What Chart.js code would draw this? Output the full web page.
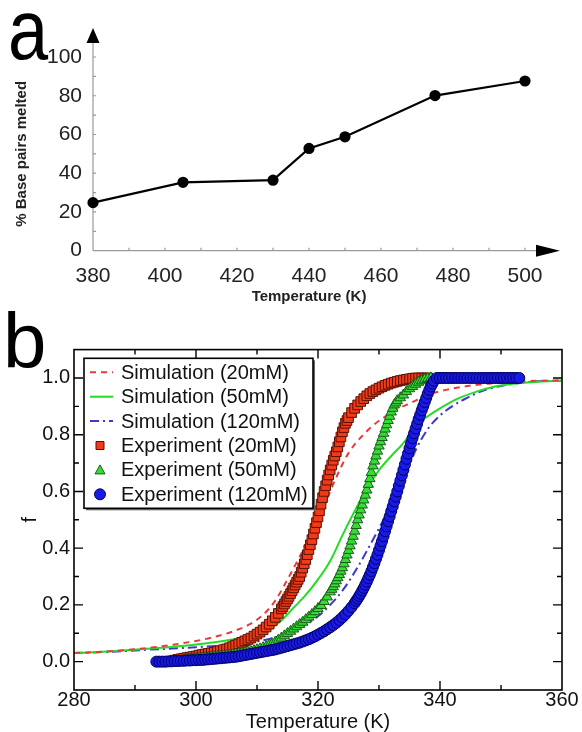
<!DOCTYPE html>
<html>
<head>
<meta charset="utf-8">
<script src="https://cdn.jsdelivr.net/npm/chart.js@4.4.1/dist/chart.umd.min.js"></script>
<style>
  html, body { margin: 0; padding: 0; background: #fff; }
  #wrap { position: relative; width: 582px; height: 732px; overflow: hidden; }
  #chartA { position: absolute; left: 0; top: 0; }
  #chartB { position: absolute; left: 0; top: 310px; }
  .tag { position: absolute; font-family: "Liberation Sans", Arial, sans-serif; color: #000; line-height: 1; }
</style>
</head>
<body>
<div id="wrap">
  <canvas id="chartA" width="582" height="310"></canvas>
  <canvas id="chartB" width="582" height="422"></canvas>
  <div class="tag" style="left:8px;top:-13px;font-size:85px;transform:scaleX(0.85);transform-origin:left top;">a</div>
  <div class="tag" style="left:3px;top:302px;font-size:78px;">b</div>
</div>
<script>
/* ---------- panel a data ---------- */
const tempA = [380, 405, 430, 440, 450, 475, 500];
const meltedA = [24.8, 35.3, 36.4, 52.8, 58.8, 80.1, 87.6];

/* ---------- panel b data ---------- */
const simT20 = [280,284,288,292,296,300,303,306,309,311,313,315,317,319,321,323,325,327,329,331,333,335,338,341,344,348,352,356,360];
const simF20 = [0.03,0.034,0.04,0.048,0.059,0.073,0.087,0.106,0.134,0.165,0.215,0.29,0.37,0.46,0.55,0.65,0.735,0.79,0.832,0.864,0.89,0.91,0.94,0.958,0.97,0.98,0.986,0.99,0.992];

const simT50 = [280,284,288,292,296,300,303,306,309,312,314,316,318,320,322,324,326,328,330,332,334,336,338,340,343,346,349,352,356,360];
const simF50 = [0.03,0.034,0.039,0.045,0.052,0.06,0.068,0.078,0.092,0.115,0.145,0.19,0.235,0.29,0.355,0.445,0.53,0.61,0.675,0.725,0.77,0.83,0.865,0.893,0.928,0.952,0.97,0.98,0.987,0.99];

const simT120 = [280,284,288,292,296,300,304,308,311,314,317,320,322,324,326,328,330,332,334,336,338,340,342,344,347,350,353,356,360];
const simF120 = [0.03,0.033,0.037,0.042,0.046,0.051,0.056,0.064,0.075,0.092,0.12,0.16,0.2,0.25,0.315,0.39,0.47,0.555,0.64,0.745,0.82,0.868,0.9,0.925,0.955,0.972,0.982,0.988,0.99];

const expT20 = [296.5,297,297.5,298,298.5,299,299.5,300,300.5,301,301.5,302,302.5,303,303.5,304,304.5,305,305.5,306,
  306.5,307,307.5,308,308.5,309,309.5,310,310.5,311,311.5,312,312.5,313,313.5,
  314,314.25,314.5,314.75,315,315.25,315.5,315.75,316,316.25,316.5,316.75,317,317.25,317.5,317.75,
  318,318.25,318.5,318.75,319,319.25,319.5,319.75,320,320.25,320.5,320.75,321,321.25,321.5,321.75,
  322,322.25,322.5,322.75,323,323.25,323.5,323.75,324,324.25,324.5,324.75,
  325,325.5,326,326.5,327,327.5,328,328.5,329,329.5,330,330.5,331,331.5,332,332.5,333,333.5,334,334.5,
  335,335.5,336,336.5,337,337.5,338];
const expF20 = [0.005,0.008,0.01,0.012,0.014,0.016,0.018,0.02,0.023,0.025,0.027,0.029,0.031,0.033,0.036,0.039,0.042,0.045,0.049,0.053,
  0.058,0.063,0.068,0.073,0.078,0.083,0.09,0.097,0.104,0.112,0.122,0.132,0.144,0.156,0.17,
  0.186,0.194,0.203,0.212,0.221,0.23,0.24,0.25,0.26,0.27,0.28,0.29,0.30,0.315,0.33,0.345,
  0.36,0.377,0.395,0.412,0.43,0.45,0.47,0.49,0.51,0.532,0.555,0.578,0.60,0.62,0.64,0.658,
  0.676,0.693,0.71,0.725,0.74,0.757,0.775,0.792,0.81,0.825,0.84,0.85,
  0.86,0.878,0.893,0.905,0.917,0.927,0.937,0.945,0.952,0.958,0.964,0.969,0.974,0.978,0.982,0.985,0.988,0.991,0.993,0.995,
  0.997,0.999,1.0,1.0,1.0,1.0,1.0];

const expT50 = [298,298.5,299,299.5,300,300.5,301,301.5,302,302.5,303,303.5,304,304.5,305,305.5,306,306.5,307,307.5,
  308,308.5,309,309.5,310,310.5,311,311.5,312,312.5,313,313.5,314,314.5,315,315.5,316,316.5,317,317.5,
  318,318.5,319,319.5,320,320.5,321,321.5,
  322,322.25,322.5,322.75,323,323.25,323.5,323.75,324,324.25,324.5,324.75,325,325.25,325.5,325.75,
  326,326.25,326.5,326.75,327,327.25,327.5,327.75,328,328.25,328.5,328.75,329,329.25,329.5,329.75,
  330,330.25,330.5,330.75,331,331.25,331.5,331.75,332,332.25,332.5,332.75,
  333,333.5,334,334.5,335,335.5,336,336.5,337,337.5,338,338.5];
const expF50 = [0.005,0.007,0.008,0.01,0.011,0.012,0.013,0.014,0.015,0.016,0.017,0.018,0.019,0.02,0.021,0.022,0.024,0.026,0.028,0.03,
  0.032,0.034,0.036,0.039,0.042,0.045,0.049,0.053,0.058,0.063,0.069,0.076,0.083,0.091,0.099,0.107,0.115,0.123,0.131,0.139,
  0.148,0.157,0.166,0.176,0.187,0.198,0.212,0.228,
  0.246,0.255,0.264,0.274,0.285,0.296,0.307,0.319,0.331,0.345,0.36,0.376,0.392,0.408,0.425,0.442,
  0.46,0.48,0.5,0.517,0.535,0.552,0.57,0.587,0.605,0.625,0.645,0.667,0.69,0.707,0.725,0.742,
  0.76,0.775,0.79,0.805,0.82,0.835,0.85,0.865,0.88,0.893,0.905,0.912,
  0.92,0.93,0.94,0.952,0.962,0.97,0.978,0.985,0.99,0.995,0.998,1.0];

const expT120 = [293.5,294,294.5,295,295.5,296,296.5,297,297.5,298,298.5,299,299.5,300,300.5,301,301.5,302,302.5,303,
  303.5,304,304.5,305,305.5,306,306.5,307,307.5,308,308.5,309,309.5,310,310.5,311,311.5,312,312.5,313,
  313.5,314,314.5,315,315.5,316,316.5,317,317.5,318,318.5,319,319.5,320,320.5,321,321.5,322,322.5,323,
  323.5,324,324.5,325,325.5,
  326,326.25,326.5,326.75,327,327.25,327.5,327.75,328,328.25,328.5,328.75,329,329.25,329.5,329.75,
  330,330.25,330.5,330.75,331,331.25,331.5,331.75,332,332.25,332.5,332.75,333,333.25,333.5,333.75,
  334,334.25,334.5,334.75,335,335.25,335.5,335.75,336,336.25,336.5,336.75,337,337.25,337.5,337.75,
  338,338.25,338.5,338.75,
  339,339.5,340,340.5,341,341.5,342,342.5,343,343.5,344,344.5,345,345.5,346,346.5,347,347.5,348,348.5,
  349,349.5,350,350.5,351,351.5,352,352.5,353];
const expF120 = [0,0,0,0,0.001,0.001,0.002,0.002,0.003,0.003,0.004,0.004,0.005,0.005,0.006,0.006,0.007,0.008,0.009,0.01,
  0.011,0.012,0.013,0.014,0.015,0.016,0.017,0.019,0.021,0.023,0.025,0.027,0.029,0.031,0.033,0.035,0.037,0.039,0.041,0.043,
  0.046,0.049,0.052,0.055,0.058,0.061,0.064,0.067,0.071,0.075,0.079,0.084,0.089,0.095,0.101,0.107,0.114,0.121,0.129,0.137,
  0.146,0.156,0.167,0.179,0.192,
  0.206,0.214,0.222,0.231,0.24,0.25,0.26,0.271,0.282,0.294,0.306,0.319,0.333,0.347,0.362,0.377,
  0.393,0.409,0.425,0.442,0.46,0.477,0.495,0.512,0.53,0.547,0.565,0.582,0.6,0.619,0.638,0.657,
  0.676,0.695,0.715,0.733,0.752,0.77,0.788,0.805,0.822,0.838,0.855,0.87,0.886,0.9,0.915,0.93,
  0.945,0.958,0.97,0.98,
  0.99,1.0,1.0,1.0,1.0,1.0,1.0,1.0,1.0,1.0,1.0,1.0,1.0,1.0,1.0,1.0,1.0,1.0,1.0,1.0,
  1.0,1.0,1.0,1.0,1.0,1.0,1.0,1.0,1.0];

const FONT = '"Liberation Sans", Arial, sans-serif';
const pairs = (xs, ys) => xs.map((x, i) => ({ x: x, y: ys[i] }));

/* ======================
   PANEL A : axes with arrows
====================== */
const arrowAxes = {
  id: 'arrowAxes',
  beforeDatasetsDraw(chart) {
    const { ctx, scales: { x, y } } = chart;
    const x0 = x.getPixelForValue(x.min);
    const y0 = y.getPixelForValue(y.min);
    const xEnd = x.getPixelForValue(x.max);
    const yEnd = y.getPixelForValue(y.max);
    ctx.save();
    ctx.strokeStyle = '#9a9a9a';
    ctx.lineWidth = 1.2;
    ctx.beginPath();
    ctx.moveTo(x0, y0); ctx.lineTo(xEnd + 12, y0);
    ctx.moveTo(x0, y0); ctx.lineTo(x0, yEnd - 15);
    x.ticks.forEach(t => {
      const px = x.getPixelForValue(t.value);
      ctx.moveTo(px, y0); ctx.lineTo(px, y0 - 3);
    });
    y.ticks.forEach(t => {
      const py = y.getPixelForValue(t.value);
      ctx.moveTo(x0, py); ctx.lineTo(x0 + 3, py);
    });
    ctx.stroke();
    ctx.fillStyle = '#000';
    ctx.beginPath();
    ctx.moveTo(xEnd + 11, y0 - 6); ctx.lineTo(xEnd + 35, y0); ctx.lineTo(xEnd + 11, y0 + 6); ctx.closePath();
    ctx.moveTo(x0 - 6.5, yEnd - 14); ctx.lineTo(x0, yEnd - 29); ctx.lineTo(x0 + 6.5, yEnd - 14); ctx.closePath();
    ctx.fill();
    ctx.restore();
  }
};

new Chart(document.getElementById('chartA'), {
  type: 'line',
  data: {
    datasets: [{
      data: pairs(tempA, meltedA),
      borderColor: '#000',
      backgroundColor: '#000',
      borderWidth: 2.2,
      pointRadius: 4.5,
      pointHoverRadius: 4.5,
      tension: 0,
      clip: false
    }]
  },
  options: {
    responsive: false,
    animation: false,
    events: [],
    devicePixelRatio: 1,
    layout: { padding: { left: 0, right: 57, top: 57, bottom: 0 } },
    plugins: { legend: { display: false }, tooltip: { enabled: false } },
    scales: {
      x: {
        type: 'linear', min: 380, max: 500,
        grid: { display: false, drawTicks: false }, border: { display: false },
        ticks: {
          stepSize: 10, autoSkip: false, maxRotation: 0, padding: 13,
          color: '#222', font: { family: FONT, size: 21 },
          callback: v => (v % 20 === 0 ? v : '')
        },
        title: {
          display: true, text: 'Temperature (K)', color: '#222',
          font: { family: FONT, size: 15, weight: 'bold' },
          padding: { top: 0, bottom: 4 }
        },
        afterFit: s => { s.height = 59.3; }
      },
      y: {
        min: 0, max: 100,
        grid: { display: false, drawTicks: false }, border: { display: false },
        ticks: {
          stepSize: 10, autoSkip: false, padding: 11,
          color: '#222', font: { family: FONT, size: 21 },
          callback: v => (v % 20 === 0 ? v : '')
        },
        title: {
          display: true, text: '% Base pairs melted', color: '#222',
          font: { family: FONT, size: 15, weight: 'bold' },
          padding: { top: 13, bottom: 0 }
        },
        afterFit: s => { s.width = 93; }
      }
    }
  },
  plugins: [arrowAxes]
});

/* ======================
   PANEL B : framed plot + legend box
====================== */
const legendItems = [
  { text: 'Simulation (20mM)', kind: 'line', color: '#e83c3c', dash: [6, 5], width: 2 },
  { text: 'Simulation (50mM)', kind: 'line', color: '#22dd22', dash: [], width: 2 },
  { text: 'Simulation (120mM)', kind: 'line', color: '#3a3acc', dash: [9, 4, 2, 4], width: 2 },
  { text: 'Experiment (20mM)', kind: 'rect', color: '#f03a18', edge: '#5a1005' },
  { text: 'Experiment (50mM)', kind: 'triangle', color: '#33dd33', edge: '#1c5a1c' },
  { text: 'Experiment (120mM)', kind: 'circle', color: '#1a1ae6', edge: '#000066' }
];

const frameB = {
  id: 'frameB',
  afterDatasetsDraw(chart) {
    const { ctx, chartArea: a, scales: { x, y } } = chart;
    ctx.save();
    ctx.strokeStyle = '#000';
    ctx.lineWidth = 1.6;
    ctx.strokeRect(a.left, a.top, a.right - a.left, a.bottom - a.top);
    ctx.lineWidth = 1.4;
    ctx.beginPath();
    x.ticks.forEach(t => {
      if (t.value <= x.min || t.value >= x.max) return;
      const px = x.getPixelForValue(t.value);
      const len = t.value % 20 === 0 ? 9 : 5;
      ctx.moveTo(px, a.bottom); ctx.lineTo(px, a.bottom - len);
      ctx.moveTo(px, a.top); ctx.lineTo(px, a.top + len);
    });
    y.ticks.forEach(t => {
      const r = Math.round(t.value * 10);
      if (t.value <= y.min + 1e-9 || t.value >= y.max - 1e-9) return;
      const py = y.getPixelForValue(t.value);
      const len = r % 2 === 0 ? 9 : 5;
      ctx.moveTo(a.left, py); ctx.lineTo(a.left + len, py);
      ctx.moveTo(a.right, py); ctx.lineTo(a.right - len, py);
    });
    ctx.stroke();

    // legend box
    const bx = a.left + 10, by = a.top + 8.7, bw = 229, bh = 150;
    ctx.fillStyle = '#666';
    ctx.fillRect(bx + 2, by + 2, bw, bh);
    ctx.fillStyle = '#fff';
    ctx.fillRect(bx, by, bw, bh);
    ctx.strokeStyle = '#000';
    ctx.lineWidth = 1.6;
    ctx.strokeRect(bx, by, bw, bh);
    ctx.font = '20px ' + FONT;
    ctx.textBaseline = 'middle';
    ctx.textAlign = 'left';
    legendItems.forEach((it, i) => {
      const cy = by + 14 + i * 24.4;
      const mx = bx + 16;
      if (it.kind === 'line') {
        ctx.strokeStyle = it.color;
        ctx.lineWidth = it.width;
        ctx.setLineDash(it.dash);
        ctx.beginPath();
        ctx.moveTo(bx + 6, cy); ctx.lineTo(bx + 29, cy);
        ctx.stroke();
        ctx.setLineDash([]);
      } else {
        ctx.fillStyle = it.color;
        ctx.strokeStyle = it.edge;
        ctx.lineWidth = 1;
        ctx.beginPath();
        if (it.kind === 'rect') {
          ctx.rect(mx - 4, cy - 4, 8, 8);
        } else if (it.kind === 'triangle') {
          ctx.moveTo(mx, cy - 5); ctx.lineTo(mx + 5, cy + 4); ctx.lineTo(mx - 5, cy + 4); ctx.closePath();
        } else {
          ctx.arc(mx, cy, 5.5, 0, Math.PI * 2);
        }
        ctx.fill();
        ctx.stroke();
      }
      ctx.fillStyle = '#111';
      ctx.fillText(it.text, bx + 37, cy + 1);
    });
    ctx.restore();
  }
};

const simSet = (xs, ys, item) => ({
  data: pairs(xs, ys),
  borderColor: item.color,
  borderDash: item.dash,
  borderWidth: item.width,
  pointRadius: 0,
  cubicInterpolationMode: 'monotone',
  fill: false,
  order: 10
});

const expSet = (xs, ys, item, style, radius, order) => ({
  data: pairs(xs, ys),
  showLine: false,
  pointStyle: style,
  pointRadius: radius,
  pointHoverRadius: radius,
  pointBackgroundColor: item.color,
  pointBorderColor: item.edge,
  pointBorderWidth: 1,
  order: order
});

new Chart(document.getElementById('chartB'), {
  type: 'line',
  data: {
    datasets: [
      simSet(simT20, simF20, legendItems[0]),
      simSet(simT50, simF50, legendItems[1]),
      simSet(simT120, simF120, legendItems[2]),
      expSet(expT20, expF20, legendItems[3], 'rect', 6.8, 3),
      expSet(expT50, expF50, legendItems[4], 'triangle', 6, 2),
      expSet(expT120, expF120, legendItems[5], 'circle', 5.5, 1)
    ]
  },
  options: {
    responsive: false,
    animation: false,
    events: [],
    devicePixelRatio: 1,
    layout: { padding: { left: 0, right: 20, top: 39.6, bottom: 0 } },
    plugins: { legend: { display: false }, tooltip: { enabled: false } },
    scales: {
      x: {
        type: 'linear', min: 280, max: 360,
        grid: { display: false, drawTicks: false }, border: { display: false },
        ticks: {
          stepSize: 10, autoSkip: false, maxRotation: 0, padding: 0,
          color: '#111', font: { family: FONT, size: 20, lineHeight: 1 },
          callback: v => (v % 20 === 0 ? v : '')
        },
        title: {
          display: true, text: 'Temperature (K)', color: '#111',
          font: { family: FONT, size: 20, lineHeight: 1 },
          padding: { top: 0, bottom: 0 }
        },
        afterFit: s => { s.height = 42; }
      },
      y: {
        min: -0.1, max: 1.1,
        grid: { display: false, drawTicks: false }, border: { display: false },
        ticks: {
          stepSize: 0.1, autoSkip: false, padding: 4,
          color: '#111', font: { family: FONT, size: 20 },
          callback: v => {
            const r = Math.round(v * 10);
            return (r % 2 === 0 && r >= 0 && r <= 10) ? (r / 10).toFixed(1) : '';
          }
        },
        title: {
          display: true, text: 'f', color: '#111',
          font: { family: FONT, size: 20 },
          padding: { top: 18, bottom: 0 }
        },
        afterFit: s => { s.width = 74; }
      }
    }
  },
  plugins: [frameB]
});
</script>
</body>
</html>
